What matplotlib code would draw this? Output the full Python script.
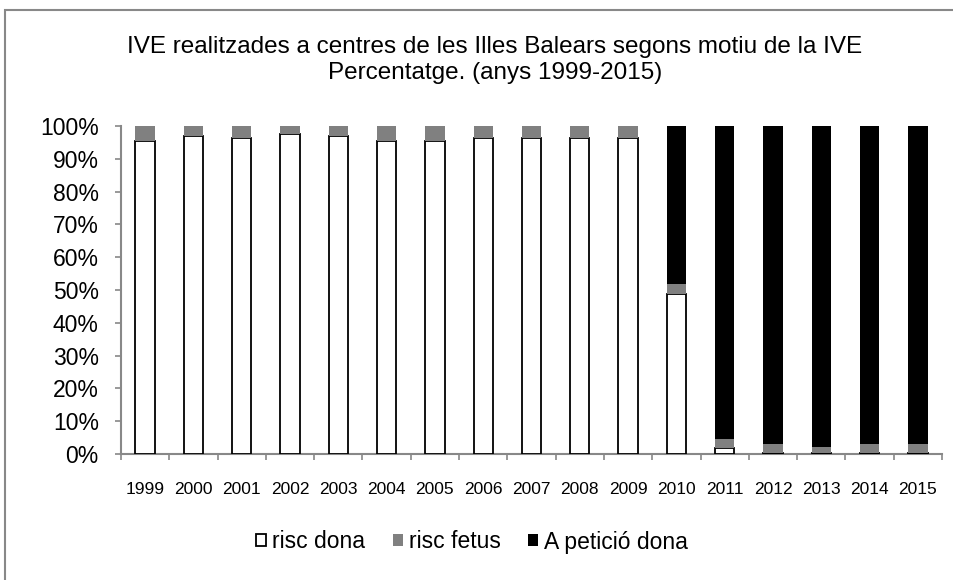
import matplotlib
matplotlib.use("Agg")
import matplotlib.pyplot as plt
from matplotlib.patches import Rectangle
import numpy as np

years = ["1999", "2000", "2001", "2002", "2003", "2004", "2005", "2006", "2007",
         "2008", "2009", "2010", "2011", "2012", "2013", "2014", "2015"]
risc_dona = [95.4, 96.9, 96.4, 97.6, 96.9, 95.4, 95.4, 96.4, 96.4, 96.4, 96.4,
             48.8, 1.8, 0.3, 0.3, 0.3, 0.3]
risc_fetus = [4.6, 3.1, 3.6, 2.4, 3.1, 4.6, 4.6, 3.6, 3.6, 3.6, 3.6,
              3.0, 2.8, 2.7, 1.8, 2.7, 2.7]
peticio = [0, 0, 0, 0, 0, 0, 0, 0, 0, 0, 0,
           48.2, 95.4, 97.0, 97.9, 97.0, 97.0]
series_names = ["risc dona", "risc fetus", "A petició dona"]
title = "IVE realitzades a centres de les Illes Balears segons motiu de la IVE\nPercentatge. (anys 1999-2015)"

plt.rcParams['font.family'] = ['Liberation Sans', 'DejaVu Sans']

fig = plt.figure(figsize=(9.54, 5.8), dpi=100)
ax = fig.add_axes([121/954, 1-454/580, 821/954, 328/580])

x = np.arange(len(years))
w = 0.40
rd = np.array(risc_dona)
rf = np.array(risc_fetus)
pt = np.array(peticio)
ax.bar(x, rd, w, color="white", edgecolor="black", linewidth=1.3, label=series_names[0], zorder=3)
ax.bar(x, rf, w, bottom=rd, color="#808080", edgecolor="none", label=series_names[1], zorder=3)
ax.bar(x, pt, w, bottom=rd + rf, color="black", edgecolor="none", label=series_names[2], zorder=3)

ax.set_xlim(-0.5, len(years) - 0.5)
ax.set_ylim(0, 100)
ax.set_yticks(np.arange(0, 101, 10))
ax.set_yticklabels([f"{v}%" for v in range(0, 101, 10)], fontsize=16.5)
ax.set_xticks(x)
ax.set_xticklabels(years, fontsize=12.5)
ax.set_xticks(np.arange(-0.5, len(years), 1), minor=True)
ax.tick_params(axis='x', which='major', length=0, pad=20)
ax.tick_params(axis='x', which='minor', length=4, color="#888888", width=1.2)
ax.tick_params(axis='y', length=4, color="#888888", width=1.2, pad=12)
for s in ["top", "right"]:
    ax.spines[s].set_visible(False)
for s in ["left", "bottom"]:
    ax.spines[s].set_color("#888888")
    ax.spines[s].set_linewidth(1.5)

fig.text(495/954, 1-60/580, title, ha="center", va="center", fontsize=17.5, linespacing=1.25)

handles, labels = ax.get_legend_handles_labels()
fig.legend(handles, labels, loc="center", bbox_to_anchor=(472/954, 1-542/580), ncol=3,
           frameon=False, fontsize=16.5, handlelength=0.45, handleheight=0.45,
           handletextpad=0.25, columnspacing=1.2)

fig.patches.append(Rectangle((5/954, -0.01), 1.0, 1-10/580 + 0.01, transform=fig.transFigure,
                             fill=False, edgecolor="#888888", linewidth=1.5))

fig.savefig("out.png", dpi=100)
